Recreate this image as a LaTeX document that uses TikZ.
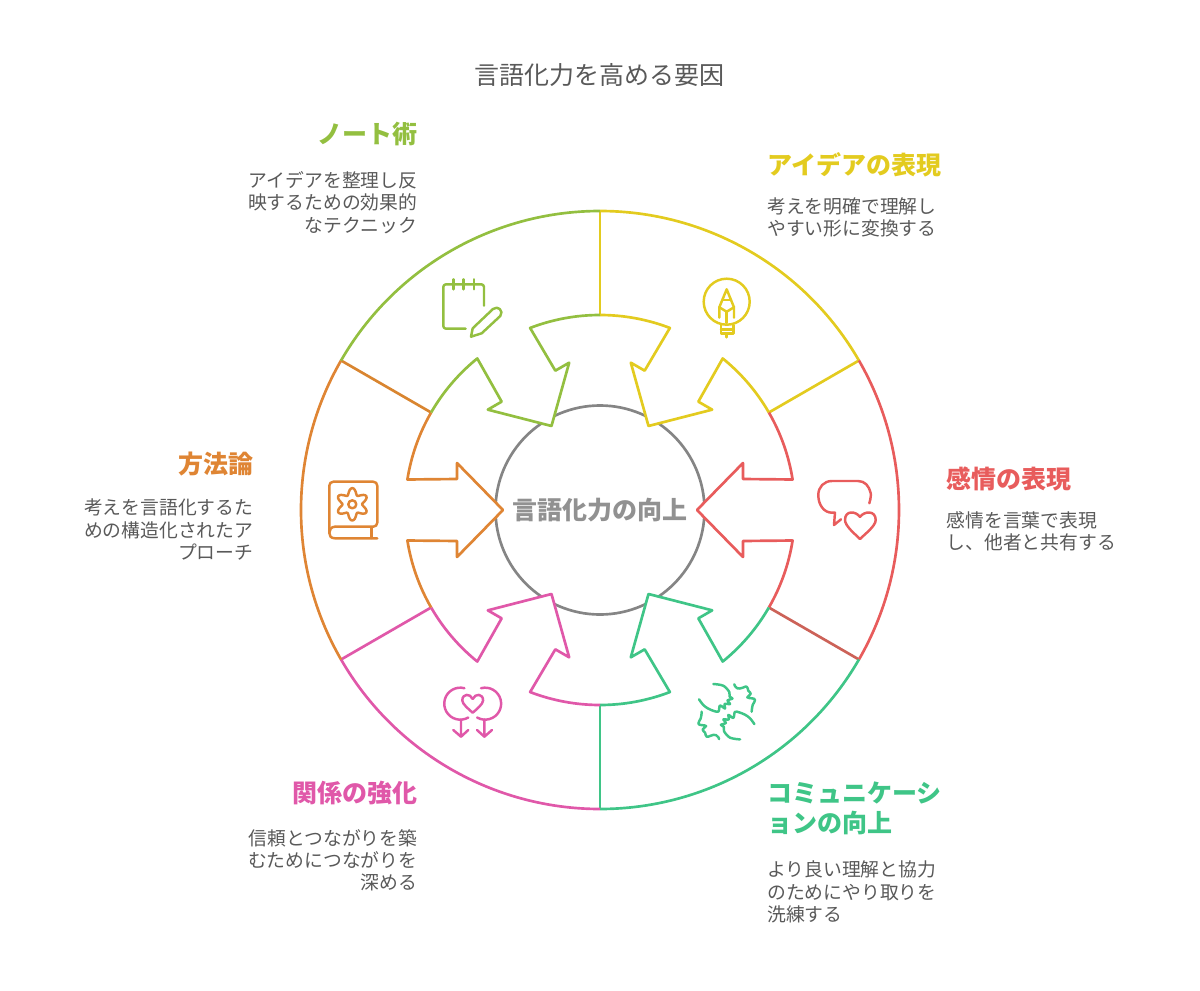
\documentclass[tikz,border=0pt]{standalone}
\usepackage{fontspec}
\setmainfont{Noto Sans CJK JP}
\usetikzlibrary{positioning}
\definecolor{ideacol}{HTML}{E3CB1F}
\definecolor{feelcol}{HTML}{E85C5C}
\definecolor{commcol}{HTML}{3FC587}
\definecolor{bondcol}{HTML}{E058A9}
\definecolor{methcol}{HTML}{DF8534}
\definecolor{notecol}{HTML}{93BF40}
\definecolor{mixcol}{HTML}{CC6258}
\definecolor{darkmeth}{HTML}{D98530}
\definecolor{hubcol}{HTML}{858585}
\definecolor{bodycol}{HTML}{595959}
\begin{document}
\begin{tikzpicture}[x=0.75pt,y=0.75pt,line join=round]
  \tikzstyle{ring}=[line width=2pt]
  \tikzstyle{icon}=[line width=1.85pt,line cap=round]
  \tikzstyle{hub}=[circle,draw=hubcol,line width=2pt,minimum size=156.75pt,inner sep=0pt,text=hubcol!90,font=\fontsize{18.75pt}{22pt}\selectfont\bfseries]
  \tikzstyle{head}=[inner sep=0pt,font=\fontsize{18.75pt}{22.5pt}\selectfont\bfseries]
  \tikzstyle{body}=[inner sep=0pt,text=bodycol,font=\fontsize{14.1pt}{16.8pt}\selectfont]
  \useasboundingbox (-600,-480) rectangle (600,510);
  \node[inner sep=0pt,text=bodycol,font=\fontsize{18.75pt}{22pt}\selectfont] (title) at (0,435) {言語化力を高める要因};
  \node[hub] (goal) at (0,0) {言語化力の向上};
  \foreach \b/\col in {90/ideacol,30/ideacol,-30/mixcol,-90/commcol,-150/bondcol,150/darkmeth}
    \draw[ring,\col] (\b:195) -- (\b:299);
  \foreach \a/\col in {60/ideacol,0/feelcol,-60/commcol,-120/bondcol,180/methcol,120/notecol}
  {
    \draw[ring,\col] (\a-30:299) arc[start angle=\a-30,end angle=\a+30,radius=299];
    \begin{scope}[rotate=\a]
      \draw[ring,\col,fill=white] (30:195) arc[start angle=30,end angle=9,radius=195] -- (143,31) -- (143,47) -- (97,0) -- (143,-47) -- (143,-31) -- (-9:195) arc[start angle=-9,end angle=-30,radius=195];
    \end{scope}
  }
  \node[head,text=notecol,anchor=east] (note) at (-182.5,376) {ノート術};
  \node[body,align=right,below=27.75pt of note.east,anchor=north east] (notetext) {アイデアを整理し反\\映するための効果的\\なテクニック};
  \node[head,text=ideacol,anchor=west] (idea) at (167,345) {アイデアの表現};
  \node[body,align=left,below=24pt of idea.west,anchor=north west] (ideatext) {考えを明確で理解し\\やすい形に変換する};
  \node[head,text=feelcol,anchor=west] (feel) at (346.5,31) {感情の表現};
  \node[body,align=left,below=24pt of feel.west,anchor=north west] (feeltext) {感情を言葉で表現\\し、他者と共有する};
  \node[head,text=commcol,align=left,anchor=north west] (comm) at (167,-272) {コミュニケーシ\\ョンの向上};
  \node[body,align=left,below=18.75pt of comm.south west,anchor=north west] (commtext) {より良い理解と協力\\のためにやり取りを\\洗練する};
  \node[head,text=bondcol,anchor=east] (bond) at (-182.5,-283) {関係の強化};
  \node[body,align=right,below=27pt of bond.east,anchor=north east] (bondtext) {信頼とつながりを築\\むためにつながりを\\深める};
  \node[head,text=methcol,anchor=east] (meth) at (-346.5,46) {方法論};
  \node[body,align=right,below=26pt of meth.east,anchor=north east] (methtext) {考えを言語化するた\\めの構造化されたア\\プローチ};
  \begin{scope}[shift={(-600,510)},yscale=-1]
    \draw[icon,notecol,rounded corners=2pt] (484,305.6) -- (484,284.3) -- (443.3,284.3) -- (443.3,328.7) -- (465.7,328.7);
    \foreach \x in {453.3,463.5,474}
      \draw[icon,notecol] (\x,279.3) -- (\x,289.3);
    \draw[icon,notecol] (472.7,328.3) -- (471,336.7) -- (481.7,333.3) -- (500.3,316) .. controls (504,311) and (498,305) .. (493,309) -- cycle;
    \draw[icon,ideacol] (726.7,301.7) circle[radius=23];
    \draw[icon,ideacol] (719.3,317.7) -- (719.3,307.3) -- (726.7,289.3) -- (734,307.3) -- (734,317.7);
    \draw[icon,ideacol] (719.3,307.3) -- (726.7,311.7) -- (734,307.3);
    \draw[icon,ideacol] (726.7,311.7) -- (726.7,323);
    \draw[icon,ideacol] (723,300) -- (730.4,300);
    \draw[icon,ideacol] (721,325) -- (721,333.3) -- (733.3,333.3) -- (733.3,325);
    \draw[icon,ideacol] (721,329.3) -- (733.3,329.3);
    \draw[icon,ideacol] (726.7,333.3) -- (726.7,337.3);
    \draw[icon,feelcol] (869.3,503.3) .. controls (871,498) and (871,494) .. (870.7,493) .. controls (869,486) and (865,481) .. (858,481) -- (832,481) .. controls (824,481) and (818.3,487) .. (818.3,495) .. controls (818.3,505) and (824,512.7) .. (832,512.7) -- (835,512.7) -- (834,525) -- (841,519.3);
    \draw[icon,feelcol] (860,517) .. controls (856,511) and (845,510) .. (845,520) .. controls (845,526) and (855,534) .. (860,539) .. controls (865,534) and (875.7,526) .. (875.7,520) .. controls (875.7,510) and (864,511) .. (860,517);
    \foreach \r in {0,180}
    {
      \begin{scope}[rotate around={\r:(726.7,711.7)}]
        \draw[icon,commcol] plot[smooth,tension=0.55] coordinates {(713.3,684) (723.3,685.7) (729.3,692) (729.5,696.5) (732.5,698.5) (727.5,700.5) (730,704) (724.5,704) (725,708.5) (720,705.5) (718.5,711.5) (714,711) (708,708.5) (703.3,705) (699,699.3)};
        \draw[icon,commcol] plot[smooth,tension=1] coordinates {(734.3,684.3) (737.3,688.3) (742.7,687.7) (746.7,686.7) (748.3,690.7) (750.7,694) (747.3,697.3) (751.7,698.3) (755,700) (752.7,705) (751.7,711.7)};
      \end{scope}
    }
    \draw[icon,bondcol] (464.4,688.2) arc[start angle=-75,end angle=-300,radius=16];
    \draw[icon,bondcol] (481,688.2) arc[start angle=-105,end angle=120,radius=16];
    \draw[icon,bondcol] (461,719.5) -- (461,736.7) (453.3,730) -- (461,736.7) -- (468.3,730);
    \draw[icon,bondcol] (484.4,719.5) -- (484.4,736.7) (477,730) -- (484.4,736.7) -- (492,730);
    \draw[icon,bondcol] (472.7,699) .. controls (470,693) and (462.3,693.5) .. (462.3,700.5) .. controls (462.3,704) and (469,709.5) .. (472.7,712.7) .. controls (476.4,709.5) and (483.1,704) .. (483.1,700.5) .. controls (483.1,693.5) and (475.4,693) .. (472.7,699);
    \draw[icon,methcol,rounded corners=3pt] (335,526.7) -- (377.3,526.7) -- (377.3,481.7) -- (329.3,481.7) -- (329.3,533);
    \draw[icon,methcol] (335,526.7) .. controls (331,526.7) and (329.3,530) .. (329.3,533) .. controls (329.3,536) and (331,538.3) .. (335,538.3) -- (377.3,538.3);
    \draw[icon,methcol] (371.7,528) -- (371.7,538);
    \draw[icon,methcol] (352.3,504.3) circle[radius=4];
    \draw[icon,methcol] plot[smooth,domain=0:360,samples=73] ({352.3+(13-3.2*cos(6*\x))*cos(\x)},{504.3+(13-3.2*cos(6*\x))*sin(\x)});
  \end{scope}
\end{tikzpicture}
\end{document}
